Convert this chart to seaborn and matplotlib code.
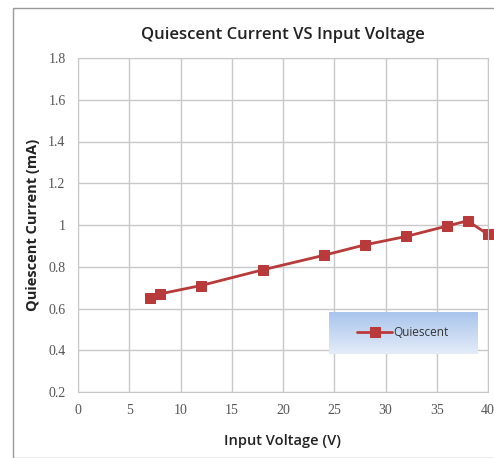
import matplotlib
matplotlib.use("Agg")
import matplotlib.pyplot as plt
import seaborn as sns
import numpy as np
import pandas as pd
from matplotlib.patches import Rectangle
from matplotlib.colors import LinearSegmentedColormap

# data
voltage = [7, 8, 12, 18, 24, 28, 32, 36, 38, 40]
current = [0.65, 0.67, 0.71, 0.785, 0.855, 0.905, 0.945, 0.995, 1.02, 0.955]
x_ticks = [0, 5, 10, 15, 20, 25, 30, 35, 40]
y_ticks = [0.2, 0.4, 0.6, 0.8, 1.0, 1.2, 1.4, 1.6, 1.8]
y_labels = ["0.2", "0.4", "0.6", "0.8", "1", "1.2", "1.4", "1.6", "1.8"]

df = pd.DataFrame({"Input Voltage (V)": voltage, "Quiescent": current})

sns.set_style("white")
plt.rcParams["font.family"] = ["Open Sans", "DejaVu Sans"]

fig = plt.figure(figsize=(4.94, 4.58), dpi=100)
# chart border like the spreadsheet frame
fig.patches.append(Rectangle((13 / 494, 0.0), 1.0, 1 - 8 / 458, transform=fig.transFigure,
                             fill=False, edgecolor="#9a9a9a", linewidth=1.0))
ax = fig.add_axes([78 / 494, 1 - 392 / 458, 410 / 494, 334 / 458])

sns.lineplot(data=df, x="Input Voltage (V)", y="Quiescent", ax=ax, color="#b83a3a",
             marker="s", markersize=7, markeredgecolor="#b83a3a", linewidth=2,
             label="Quiescent", clip_on=False)

ax.set_xlim(0, 40)
ax.set_ylim(0.2, 1.8)
ax.set_xticks(x_ticks)
ax.set_yticks(y_ticks)
ax.set_yticklabels(y_labels)
for lab in ax.get_xticklabels() + ax.get_yticklabels():
    lab.set_family("Liberation Serif")
    lab.set_fontsize(10)
    lab.set_color("#555555")
ax.tick_params(length=0, pad=9)
ax.grid(True, color="#c8c8c8", linewidth=1)
for s in ax.spines.values():
    s.set_color("#c8c8c8")

ax.set_title("Quiescent Current VS Input Voltage", fontsize=12, fontweight="semibold",
             color="#222222", pad=14)
ax.set_xlabel("Input Voltage (V)", fontsize=10.5, fontweight="semibold", color="#222222", labelpad=12)
ax.set_ylabel("Quiescent Current (mA)", fontsize=10.5, fontweight="bold", color="#222222", labelpad=6)

# gradient legend box
lax = fig.add_axes([329 / 494, 1 - 354 / 458, 148 / 494, 42 / 458], zorder=5)
grad_cmap = LinearSegmentedColormap.from_list("g", ["#e4ecf8", "#a9c5ec"])
lax.imshow(np.linspace(0, 1, 50).reshape(-1, 1), cmap=grad_cmap, aspect="auto",
           origin="lower", extent=[0, 1, 0, 1])
lax.set_axis_off()

handles, labels = ax.get_legend_handles_labels()
ax.get_legend().remove()
leg = lax.legend(handles, labels, loc="center", frameon=False, fontsize=8.5,
                 handlelength=3.0, handletextpad=0.1)
for t in leg.get_texts():
    t.set_color("#333333")

fig.savefig("out.png", dpi=100)
